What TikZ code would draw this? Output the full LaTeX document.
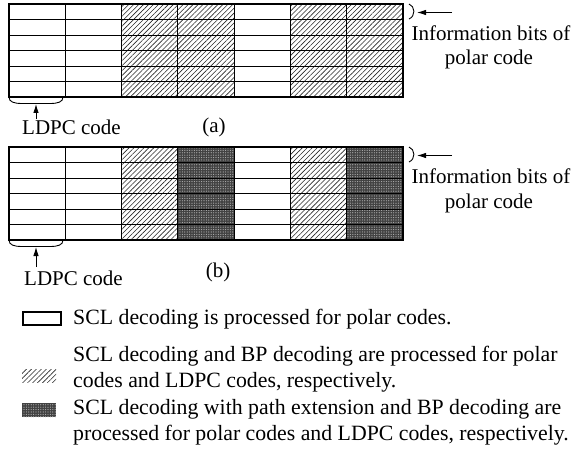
\documentclass[tikz,border=0pt]{standalone}
\usepackage{fontspec}
\setmainfont{Liberation Serif}
\usetikzlibrary{patterns.meta,arrows.meta}
\begin{document}
\begin{tikzpicture}[x=1pt,y=-1pt,
  cellw/.style={},
  cellh/.style={pattern={Lines[angle=45,distance=3.5pt,line width=0.6pt]},pattern color=black!85},
  celld/.style={fill=black!74,postaction={pattern={Dots[radius=0.6pt,distance=2.4pt]},pattern color=black!30}},
  gline/.style={line width=0.9pt},
  frame/.style={line width=1.1pt},
  lbl/.style={font=\fontsize{21}{25}\selectfont,inner sep=0pt},
  leg/.style={font=\fontsize{21.8}{26}\selectfont,inner sep=0pt,anchor=base west,align=left},
  arr/.style={line width=0.9pt,-{Latex[length=9pt,width=5.5pt]}},
  brace/.style={line width=0.9pt},
]
\useasboundingbox (0,0) rectangle (574,460);

% ---------- grid (a) ----------
\foreach \c/\t in {0/w,1/w,2/h,3/h,4/w,5/h,6/h}
  \path[cell\t] (9+\c*56.2857,4) rectangle (9+\c*56.2857+56.2857,97);
\foreach \r in {1,...,5}
  \draw[gline] (9,4+\r*15.5) -- (403,4+\r*15.5);
\foreach \c in {1,...,6}
  \draw[gline] (9+\c*56.2857,4) -- (9+\c*56.2857,97);
\draw[frame] (9,4) rectangle (403,97);

% ---------- grid (b) ----------
\foreach \c/\t in {0/w,1/w,2/h,3/d,4/w,5/h,6/d}
  \path[cell\t] (9+\c*56.2857,147) rectangle (9+\c*56.2857+56.2857,240);
\foreach \r in {1,...,5}
  \draw[gline] (9,147+\r*15.5) -- (403,147+\r*15.5);
\foreach \c in {1,...,6}
  \draw[gline] (9+\c*56.2857,147) -- (9+\c*56.2857,240);
\draw[frame] (9,147) rectangle (403,240);

% ---------- braces and labels (a) ----------
\draw[brace] (9,97) .. controls (9,102) and (14,103.5) .. (22,103.5) -- (50,103.5) .. controls (58,103.5) and (63,102) .. (63,97);
\coordinate (braceA) at (36,104);
\node[lbl,anchor=base west] (ldpcA) at (22,135) {LDPC code};
\node[lbl,anchor=base] (capA) at (214,133) {(a)};
\draw[arr] (ldpcA.north -| braceA) ++(0,-1) -- (braceA);

\draw[brace] (409,4) .. controls (415,6) and (416,16) .. (409,19);
\coordinate (parA) at (417,12.5);
\coordinate (tailA) at (452,12.5);
\draw[arr] (tailA) -- (parA);
\node[lbl,anchor=base] (infoA) at (491,41) {Information bits of};
\node[lbl,anchor=base] (polA) at (489,65) {polar code};

% ---------- braces and labels (b) ----------
\draw[brace] (9,240) .. controls (9,245) and (14,246.5) .. (22,246.5) -- (50,246.5) .. controls (58,246.5) and (63,245) .. (63,240);
\coordinate (braceB) at (36,247);
\node[lbl,anchor=base west] (ldpcB) at (24,285) {LDPC code};
\node[lbl,anchor=base] (capB) at (218,277) {(b)};
\draw[arr] (ldpcB.north -| braceB) ++(0,-3) -- (braceB);

\draw[brace] (409,147) .. controls (415,149) and (416,159) .. (409,162);
\coordinate (parB) at (417,155.5);
\coordinate (tailB) at (452,155.5);
\draw[arr] (tailB) -- (parB);
\node[lbl,anchor=base] (infoB) at (491,184) {Information bits of};
\node[lbl,anchor=base] (polB) at (489,208) {polar code};

% ---------- legend ----------
\draw[line width=1.1pt] (23,312) rectangle (61,325);
\node[leg] (leg1) at (73,324) {SCL decoding is processed for polar codes.};

\path[cellh] (22,369) rectangle (56,382);
\node[leg] (leg2) at (73,387) {SCL decoding and BP decoding are processed for polar\\codes and LDPC codes, respectively.};

\path[celld] (22,403) rectangle (56,417);
\node[leg] (leg3) at (73,440) {SCL decoding with path extension and BP decoding are\\processed for polar codes and LDPC codes, respectively.};
\end{tikzpicture}
\end{document}
